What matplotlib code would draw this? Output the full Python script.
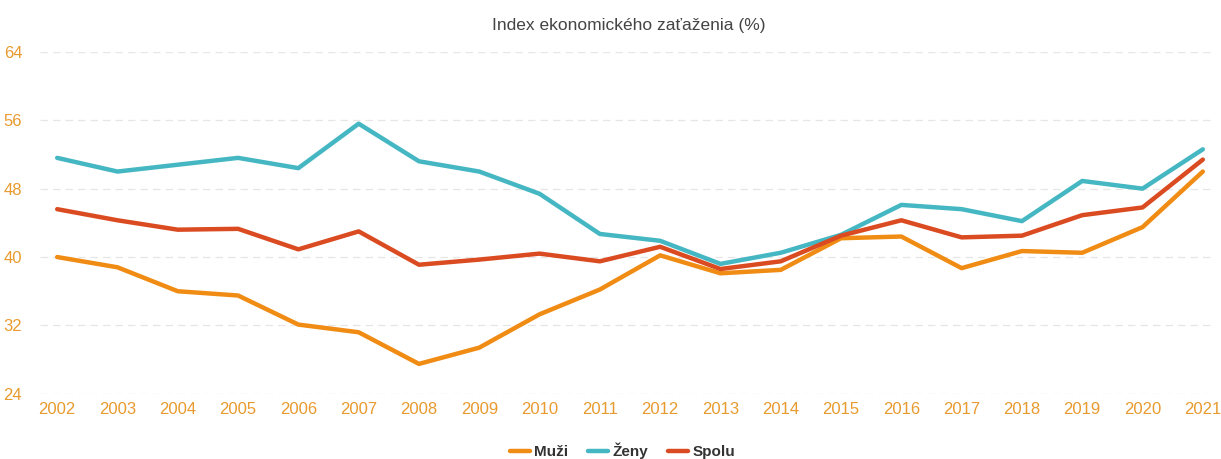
import numpy as np
import matplotlib.pyplot as plt

# data
years = list(range(2002, 2022))
muzi  = [40.0, 38.8, 36.0, 35.5, 32.1, 31.2, 27.5, 29.4, 33.3, 36.2,
         40.2, 38.1, 38.5, 42.2, 42.4, 38.7, 40.7, 40.5, 43.5, 50.0]
zeny  = [51.6, 50.0, 50.8, 51.6, 50.4, 55.6, 51.2, 50.0, 47.4, 42.7,
         41.9, 39.2, 40.5, 42.6, 46.1, 45.6, 44.2, 48.9, 48.0, 52.6]
spolu = [45.6, 44.3, 43.2, 43.3, 40.9, 43.0, 39.1, 39.7, 40.4, 39.5,
         41.2, 38.6, 39.5, 42.5, 44.3, 42.3, 42.5, 44.9, 45.8, 51.4]
yticks = [24, 32, 40, 48, 56, 64]

plt.rcParams['font.family'] = ['Liberation Sans', 'DejaVu Sans']

tick_col = '#E89A2E'
fig = plt.figure(figsize=(12.21, 4.59), dpi=100)
ax = fig.add_axes([0.033, 0.142, 0.962, 0.745])

ax.plot(years, muzi, color='#F08C14', lw=3.2, label='Muži', solid_capstyle='round')
ax.plot(years, zeny, color='#45B7C3', lw=3.2, label='Ženy', solid_capstyle='round')
ax.plot(years, spolu, color='#DB4B21', lw=3.2, label='Spolu', solid_capstyle='round')

ax.set_xlim(2001.72, 2021.2)
ax.set_ylim(24, 64)
ax.set_yticks(yticks)
ax.set_xticks(years)
ax.grid(axis='y', color='#e6e6e6', ls=(0, (6, 4)), lw=0.9)
ax.set_axisbelow(True)
for s in ax.spines.values():
    s.set_visible(False)
ax.tick_params(length=0, labelsize=12, colors=tick_col)
ax.tick_params(axis='y', pad=13)
ax.tick_params(axis='x', pad=6)

fig.text(0.515, 0.945, 'Index ekonomického zaťaženia (%)', ha='center', va='center',
         fontsize=12.5, color='#444444')

leg = fig.legend(loc='center', bbox_to_anchor=(0.51, 0.017), ncol=3, frameon=False,
                 handlelength=1.3, handletextpad=0.3, columnspacing=1.3,
                 prop={'weight': 'bold', 'size': 11})
for t in leg.get_texts():
    t.set_color('#333333')

fig.savefig('out.png', dpi=100)
